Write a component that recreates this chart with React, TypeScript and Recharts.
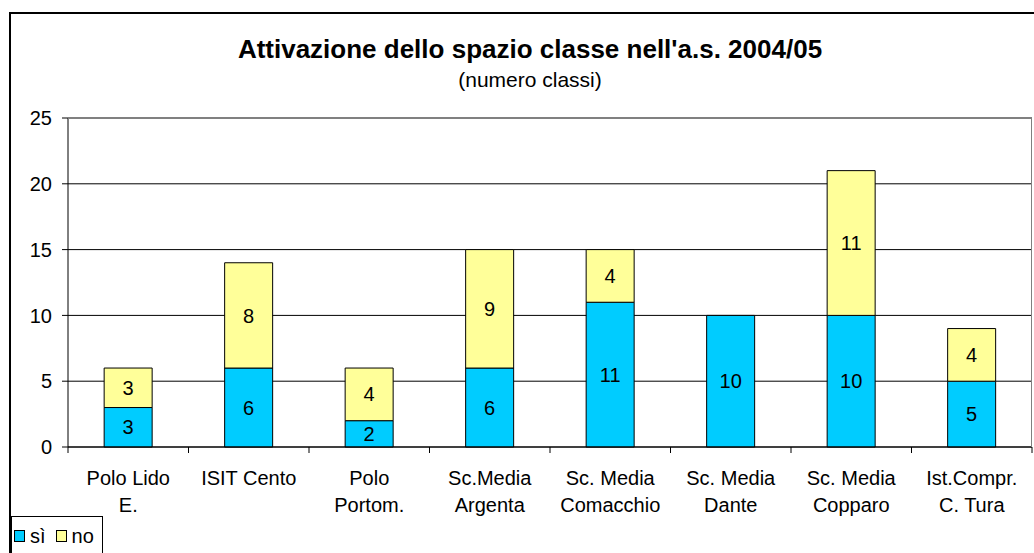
import React from "react";
import {
    BarChart,
    Bar,
    XAxis,
    YAxis,
    CartesianGrid,
    Legend,
    LabelList
} from "recharts";

// Chart data
const scuole = [
    "Polo Lido\nE.",
    "ISIT Cento",
    "Polo\nPortom.",
    "Sc.Media\nArgenta",
    "Sc. Media\nComacchio",
    "Sc. Media\nDante",
    "Sc. Media\nCopparo",
    "Ist.Compr.\nC. Tura"
];
const classiSi = [3, 6, 2, 6, 11, 10, 10, 5];
const classiNo = [3, 8, 4, 9, 4, 0, 11, 4];
const yTicks = [0, 5, 10, 15, 20, 25];
const legendOrder = ["sì", "no"];

const data = scuole.map((nome, i) => ({ nome, si: classiSi[i], no: classiNo[i] }));

// Layout
const W = 1034;
const H = 553;
const PLOT_LEFT = 68;
const PLOT_RIGHT = 1032;
const PLOT_TOP = 118;
const PLOT_BOTTOM = 447;
const BAND = (PLOT_RIGHT - PLOT_LEFT) / scuole.length;

const FONT = "'Liberation Sans', Arial, sans-serif";
const BLU = "#00CCFF";
const GIALLO = "#FFFF99";

// Excel-style category tick: marks between categories, wrapped label
function SchoolTick(props: any) {
    const { x, y, payload, index } = props;
    const righe = String(payload.value).split("\n");
    return (
        <g>
            <line x1={x - BAND / 2} y1={y} x2={x - BAND / 2} y2={y + 6} stroke="#000" />
            {index === scuole.length - 1 && (
                <line x1={x + BAND / 2} y1={y} x2={x + BAND / 2} y2={y + 6} stroke="#000" />
            )}
            {righe.map((r, i) => (
                <text
                    key={i}
                    x={x}
                    y={y + 38 + i * 27}
                    textAnchor="middle"
                    fontSize={20}
                    fontFamily={FONT}
                    fill="#000"
                >
                    {r}
                </text>
            ))}
        </g>
    );
}

function LegendBox(props: any) {
    const items = [...(props.payload || [])].sort(
        (a: any, b: any) => legendOrder.indexOf(a.value) - legendOrder.indexOf(b.value)
    );
    return (
        <div
            style={{
                display: "flex",
                alignItems: "center",
                border: "1px solid #000",
                background: "#fff",
                padding: "5px 8px 5px 2px",
                fontFamily: FONT,
                fontSize: 20,
                lineHeight: "28px"
            }}
        >
            {items.map((it: any, i: number) => (
                <span
                    key={it.value}
                    style={{ display: "flex", alignItems: "center", marginLeft: i === 0 ? 0 : 10 }}
                >
                    <span
                        style={{
                            width: 9,
                            height: 10,
                            background: it.color,
                            border: "1px solid #000",
                            marginRight: 5
                        }}
                    />
                    {it.value}
                </span>
            ))}
        </div>
    );
}

const hideZero = (v: any) => (v === 0 ? "" : v);

export default function App() {
    return (
        <div
            style={{
                position: "absolute",
                left: 0,
                top: 0,
                width: W,
                height: H,
                background: "#fff",
                overflow: "hidden",
                fontFamily: FONT
            }}
        >
            {/* outer chart frame */}
            <div
                style={{
                    position: "absolute",
                    left: 9,
                    top: 12,
                    width: W + 20,
                    height: H + 20,
                    border: "2px solid #000",
                    boxSizing: "border-box"
                }}
            />
            <div
                style={{
                    position: "absolute",
                    left: 180,
                    top: 34,
                    width: 700,
                    textAlign: "center",
                    fontWeight: "bold",
                    fontSize: 26,
                    lineHeight: "30px"
                }}
            >
                Attivazione dello spazio classe nell'a.s. 2004/05
            </div>
            <div
                style={{
                    position: "absolute",
                    left: 180,
                    top: 67,
                    width: 700,
                    textAlign: "center",
                    fontSize: 21,
                    lineHeight: "26px"
                }}
            >
                (numero classi)
            </div>
            <div style={{ position: "absolute", left: 0, top: 0 }}>
                <BarChart
                    width={W}
                    height={H}
                    data={data}
                    barCategoryGap="30%"
                    margin={{ top: PLOT_TOP, right: W - PLOT_RIGHT, left: 8, bottom: 36 }}
                >
                    <CartesianGrid vertical={false} stroke="#000" />
                    <XAxis
                        dataKey="nome"
                        interval={0}
                        height={H - PLOT_BOTTOM - 36}
                        tickSize={0}
                        tickMargin={0}
                        axisLine={{ stroke: "#000" }}
                        tick={<SchoolTick />}
                    />
                    <YAxis
                        width={PLOT_LEFT - 8}
                        domain={[0, 25]}
                        ticks={yTicks}
                        tickSize={6}
                        tickMargin={10}
                        axisLine={{ stroke: "#000" }}
                        tickLine={{ stroke: "#000" }}
                        tick={{ fill: "#000", fontSize: 20, fontFamily: FONT }}
                    />
                    <Legend
                        layout="horizontal"
                        verticalAlign="middle"
                        align="center"
                        content={<LegendBox />}
                        wrapperStyle={{ left: 11, top: 516, bottom: "auto", width: "auto" }}
                    />
                    <Bar dataKey="si" name="sì" stackId="a" fill={BLU} stroke="#000" isAnimationActive={false}>
                        <LabelList dataKey="si" position="center" formatter={hideZero} fill="#000" fontSize={20} fontFamily={FONT} />
                    </Bar>
                    <Bar dataKey="no" name="no" stackId="a" fill={GIALLO} stroke="#000" isAnimationActive={false}>
                        <LabelList dataKey="no" position="center" formatter={hideZero} fill="#000" fontSize={20} fontFamily={FONT} />
                    </Bar>
                </BarChart>
            </div>
            {/* grey plot-area border on top and right */}
            <div
                style={{
                    position: "absolute",
                    left: PLOT_LEFT,
                    top: PLOT_TOP,
                    width: PLOT_RIGHT - PLOT_LEFT,
                    height: PLOT_BOTTOM - PLOT_TOP,
                    borderTop: "1px solid #808080",
                    borderRight: "1px solid #808080",
                    boxSizing: "border-box",
                    pointerEvents: "none"
                }}
            />
        </div>
    );
}
